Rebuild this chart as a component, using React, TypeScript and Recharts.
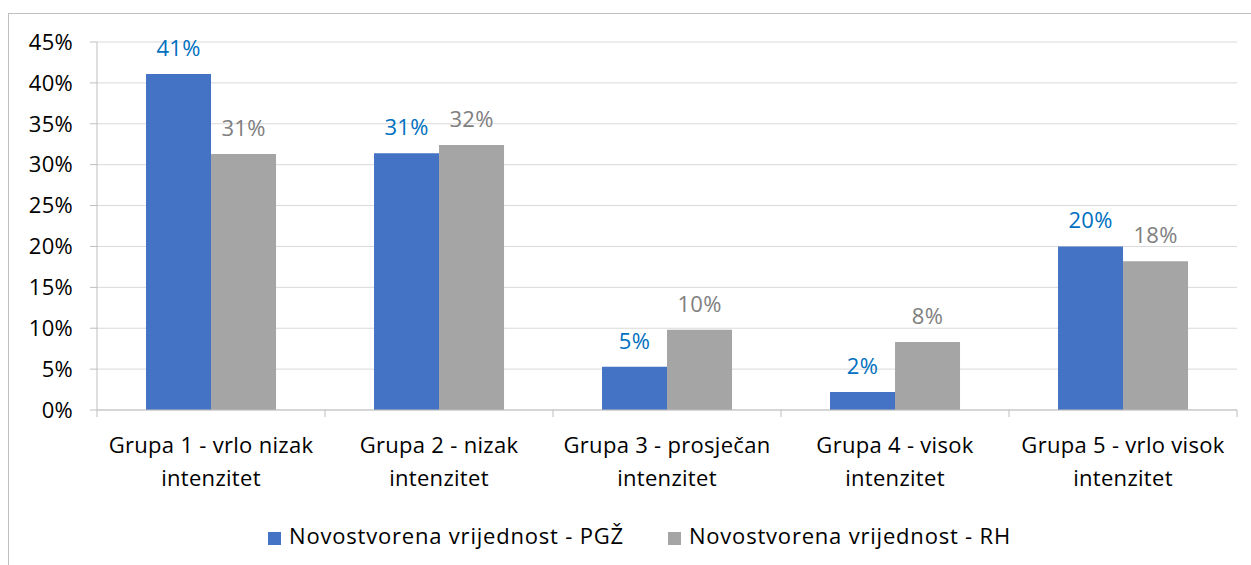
import React from 'react';
import { BarChart, Bar, XAxis, YAxis, CartesianGrid, Legend, LabelList } from 'recharts';

const categories = [
  ['Grupa 1 - vrlo nizak', 'intenzitet'],
  ['Grupa 2 - nizak', 'intenzitet'],
  ['Grupa 3 - prosječan', 'intenzitet'],
  ['Grupa 4 - visok', 'intenzitet'],
  ['Grupa 5 - vrlo visok', 'intenzitet'],
];
const pgz = [41.1, 31.4, 5.3, 2.2, 20.0];
const rh = [31.3, 32.4, 9.8, 8.3, 18.2];
const yTicks = [0, 5, 10, 15, 20, 25, 30, 35, 40, 45];
const seriesNames = ['Novostvorena vrijednost - PGŽ', 'Novostvorena vrijednost - RH'];

const data = categories.map((c, i) => ({ name: c.join('\n'), pgz: pgz[i], rh: rh[i] }));

const FONT = '"Open Sans", sans-serif';
const FS = 22;
const LS = 0.3;

const CategoryTick = (props: any) => {
  const { x, y, payload, index, width } = props;
  const band = width / categories.length;
  const lines = categories[payload.index ?? index];
  return (
    <g>
      <line x1={x - band / 2} x2={x - band / 2} y1={y - 8} y2={y - 1} stroke="#bfbfbf" />
      {index === categories.length - 1 && (
        <line x1={x + band / 2} x2={x + band / 2} y1={y - 8} y2={y - 1} stroke="#bfbfbf" />
      )}
      {lines.map((l: string, i: number) => (
        <text key={i} x={x} y={y + 35 + i * 33} textAnchor="middle" fill="#000" fontSize={FS} letterSpacing={LS} fontFamily={FONT}>
          {l}
        </text>
      ))}
    </g>
  );
};

const App = () => {
  return (
    <div style={{ position: 'absolute', left: 0, top: 0, width: 1251, height: 565, overflow: 'hidden', background: '#fff' }}>
      <div style={{ position: 'absolute', left: 8, top: 13, width: 1300, height: 600, border: '1px solid #bfbfbf' }} />
      <div style={{ position: 'absolute', left: 0, top: 0 }}>
        <BarChart
          width={1251}
          height={565}
          data={data}
          margin={{ top: 42, right: 14, left: 0, bottom: 0 }}
          barCategoryGap="21.5%"
          barGap={0}
        >
          <CartesianGrid vertical={false} stroke="#d9d9d9" />
          <XAxis
            dataKey="name"
            height={110}
            axisLine={{ stroke: '#bfbfbf' }}
            tickLine={false}
            tick={<CategoryTick />}
            interval={0}
          />
          <YAxis
            width={97}
            domain={[0, 45]}
            ticks={yTicks}
            tickFormatter={(v: number) => `${v}%`}
            axisLine={{ stroke: '#bfbfbf' }}
            tickLine={{ stroke: '#bfbfbf' }}
            tickSize={7}
            tick={{ fill: '#000', fontSize: FS, fontFamily: FONT, letterSpacing: LS, dx: -15 }}
          />
          <Legend
            verticalAlign="bottom"
            height={45}
            iconType="square"
            iconSize={13}
            wrapperStyle={{ fontFamily: FONT, fontSize: FS, letterSpacing: 0.8, paddingLeft: 86, boxSizing: 'border-box' }}
            formatter={(value: string) => <span style={{ color: '#000', marginLeft: 4, marginRight: 34 }}>{value}</span>}
          />
          <Bar dataKey="pgz" name={seriesNames[0]} fill="#4472c4" isAnimationActive={false}>
            <LabelList
              dataKey="pgz"
              position="top"
              offset={18}
              formatter={(v: number) => `${Math.round(v)}%`}
              style={{ fill: '#0070c0', fontSize: FS, fontFamily: FONT, letterSpacing: LS }}
            />
          </Bar>
          <Bar dataKey="rh" name={seriesNames[1]} fill="#a5a5a5" isAnimationActive={false}>
            <LabelList
              dataKey="rh"
              position="top"
              offset={18}
              formatter={(v: number) => `${Math.round(v)}%`}
              style={{ fill: '#808080', fontSize: FS, fontFamily: FONT, letterSpacing: LS }}
            />
          </Bar>
        </BarChart>
      </div>
    </div>
  );
};

export default App;
